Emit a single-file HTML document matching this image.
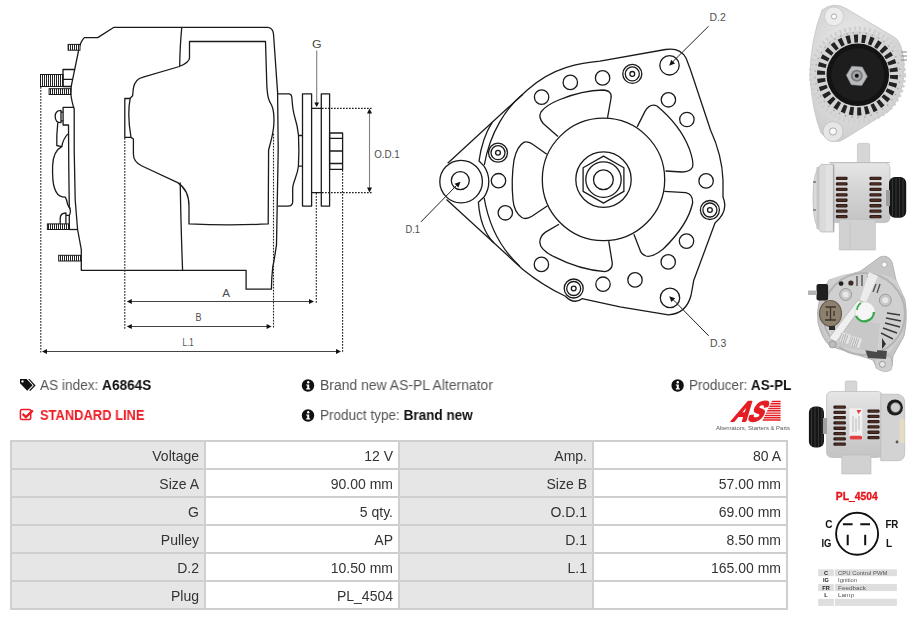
<!DOCTYPE html>
<html><head><meta charset="utf-8">
<style>
html,body{margin:0;padding:0;background:#fff;}
body{width:915px;height:620px;position:relative;overflow:hidden;font-family:"Liberation Sans",sans-serif;}
.abs{position:absolute;white-space:nowrap;will-change:transform;}
#draw{position:absolute;left:0;top:0;}
.info{font-size:14px;color:#555;line-height:16px;}
.info b{color:#111;}
#tbl{will-change:transform;position:absolute;left:10px;top:440px;width:778px;height:170px;background:#cfcfcf;}
.c{position:absolute;width:192px;height:26px;font-size:14px;color:#333;text-align:right;line-height:29px;box-sizing:border-box;padding-right:5px;overflow:hidden;}
.l{background:#e6e6e6;}
.v{background:#fff;}
</style></head><body>
<svg id="draw" width="915" height="620" viewBox="0 0 915 620">
<defs>
<pattern id="hatch" width="2" height="10" patternUnits="userSpaceOnUse"><rect width="2" height="10" fill="#fff"/><rect width="1" height="10" fill="#222"/></pattern>
</defs>
<g fill="none" stroke="#1a1a1a" stroke-width="1.3" stroke-linejoin="round">
<!-- side view outline -->
<path d="M81.3,270.3 L81.3,249.7 L77.6,229.5 L75.2,200 L74.2,150 L74.2,109 Q72,103 70.6,93 L71.3,85.8 L78.5,51 Q80,42 84.3,37.6 L97.7,37.6 L114,27.3 L267.9,27.3 Q273,28 273.5,34 L277.6,92.6 L278.2,150 L276.5,244.7 Q274,262 272.8,266.5 Q271.5,278 271.4,289.2 L246.1,289.2 L246.1,270.3 Z"/>
<path d="M181.8,27.3 Q180,45 179.7,66"/>
<path d="M180.2,182.6 Q181,230 182.6,270.3"/>
<path d="M189.5,41.5 L265.5,41.5 L266.8,85 C267.5,98 269,101 271.5,105 C274,110 274.2,118 273.8,125 C273,136 270,144 268.6,150 L268.2,223.9 Q230,226 189,223.9 L189,206 Q189,190 177.7,182.6 L142,166 Q133.4,162 133.4,154 L133.4,139 L131,137.4 Q127,115 130.2,98.2 L132.6,95.8 L133.4,88 Q135,79 142.3,77.3 L179.4,66.5 Q189.5,62 189.5,57.9 Z"/>
<path d="M130.2,98.5 L124.8,98.5 L124.8,137.4 L131,137.4"/>
<!-- rear cover -->
<path d="M74.2,107.3 L63.1,107.3 L63.1,125 L68.5,125 L68.8,170 L69.3,207.4 Q71.5,211 69.3,215.5 L69.3,224"/>
<path d="M57.8,122.7 C57,130 56.5,138 56.8,145.5 L61.8,146.6 Q53,151 52.6,166 Q52.2,182 54.5,188 Q57,196 62.3,196.8 L65.3,197.2 Q67,200 67.5,204 Q68.5,207 70.4,208.5"/>
<path d="M67.9,133.9 Q63,139 61.8,146.6"/>
<path d="M61,110.3 C56.8,110.3 55.2,113.5 55.2,116.5 C55.2,119.5 56.8,122.7 61,122.7 Z M61,112.2 L63.1,112.2 M61,120.8 L63.1,120.8"/>
<path d="M60.2,224 L60.2,218.5 C60.2,215 62.5,213 65.9,213 L65.9,224 M65.9,215.3 L69.3,215.3"/>
<path d="M69.5,229.5 L77.6,229.5"/>
<!-- box on back -->
<path d="M74.9,69.5 L63,69.5 L63,86.5 L71.4,86.5 M63,79.3 L73,79.3"/>
<!-- rear pulley part -->
<path d="M277.7,93.9 L289.5,93.9 Q291.5,94.5 291.8,97 C292.5,108 293,112 295,118 C297,124 298,130 298.5,135.5 C299,145 299,156 298.4,166.2 C297.4,176 293,182 292.7,188 L292.7,202 Q292.5,206 288,206.1 L277.7,206.1"/>
<path d="M298.5,135.5 L302.5,135.5 M298.4,166.2 L302.5,166.2"/>
<rect x="302.5" y="93.9" width="9.1" height="112.2"/>
<path d="M311.6,108.4 L321.3,108.4 M311.6,192.6 L321.3,192.6"/>
<rect x="321.3" y="93.9" width="8.3" height="112.2"/>
<rect x="329.6" y="133" width="13" height="36.4"/>
<path d="M329.6,138.4 L342.6,138.4 M329.6,151 L342.6,151 M329.6,163.5 L342.6,163.5"/>
</g>
<!-- hatched bolts -->
<g fill="url(#hatch)" stroke="#1a1a1a" stroke-width="1">
<rect x="68.1" y="44.4" width="11.9" height="5.8"/>
<rect x="40.5" y="74.5" width="22.5" height="12"/>
<rect x="49.1" y="88.7" width="21.9" height="5.8"/>
<rect x="47.4" y="223.9" width="22.1" height="5.6"/>
<rect x="58.7" y="255.3" width="22.6" height="5.7"/>
</g>
<!-- dimension lines -->
<g fill="none" stroke="#222" stroke-width="1.1" stroke-dasharray="1.7,1.3">
<path d="M40.8,87 L40.8,352.5"/>
<path d="M124.8,138 L124.8,328.8"/>
<path d="M273.5,133.7 L273.5,327.8"/>
<path d="M316.3,193 L316.3,303.5"/>
<path d="M342.6,170 L342.6,352"/>
<path d="M322,108.4 L371.6,108.4 M322,192.6 L371.6,192.6"/>
</g>
<g fill="none" stroke="#444" stroke-width="1">
<path d="M131,301.5 L310,301.5"/>
<path d="M131,326.5 L268,326.5"/>
<path d="M46,351.5 L337,351.5"/>
</g>
<g fill="none" stroke="#808080" stroke-width="1.1">
<path d="M369.5,113 L369.5,188"/>
<path d="M316.7,50.6 L316.7,103"/>
</g>
<g fill="#111" stroke="none">
<path d="M126.8,301.5 L131.8,299 L131.8,304 Z M314,301.5 L309,299 L309,304 Z"/>
<path d="M126.8,326.5 L131.8,324 L131.8,329 Z M271.6,326.5 L266.6,324 L266.6,329 Z"/>
<path d="M42,351.5 L47,349 L47,354 Z M341,351.5 L336,349 L336,354 Z"/>
<path d="M369.5,108.6 L367,113.6 L372,113.6 Z M369.5,192.4 L367,187.4 L372,187.4 Z"/>
<path d="M316.7,107 L314.3,102.6 L319.1,102.6 Z"/>
</g>
<g font-family="Liberation Sans, sans-serif" fill="#4d4d4d" font-size="10">
<text x="312" y="47.6" textLength="9.6" lengthAdjust="spacingAndGlyphs">G</text>
<text x="374.2" y="157.6" textLength="25.6" lengthAdjust="spacingAndGlyphs">O.D.1</text>
<text x="222.2" y="296.6" textLength="7.8" lengthAdjust="spacingAndGlyphs">A</text>
<text x="195.6" y="321.1" textLength="6" lengthAdjust="spacingAndGlyphs">B</text>
<text x="182.6" y="345.8" textLength="11" lengthAdjust="spacingAndGlyphs">L.1</text>
<text x="709.6" y="21" textLength="16.2" lengthAdjust="spacingAndGlyphs">D.2</text>
<text x="405.5" y="233.3" textLength="14.5" lengthAdjust="spacingAndGlyphs">D.1</text>
<text x="710.1" y="347.2" textLength="16.2" lengthAdjust="spacingAndGlyphs">D.3</text>
</g>
<!-- FRONT VIEW -->
<g fill="none" stroke="#1a1a1a" stroke-width="1.3" stroke-linejoin="round">
<path d="M447.7,163.3 L527,90.3 C538,80.3 552,72 565.8,67.6 Q583,62.5 600,61.2 L665.5,49.5 Q680,47 686,58 L690.3,69.3 L710.6,130.3 Q722,155 723,180 L723,197 Q729,211 715,223 L693.7,280.6 L691,295.5 Q686,314 668.4,314.8 L620,306.8 L582,298.7 Q574,305 565,296 Q542,285 522.9,269.4 L446.5,199.5"/>
<circle cx="461.1" cy="181.6" r="21.3"/>
<circle cx="460.3" cy="180.6" r="9"/>
<path d="M492.3,122.2 C486,132 481,147 479,161 L484.06,166.1 A27.7,27.7 0 0 1 484.06,197.1 L478.4,202.3 C479.5,218 484,233 494,243"/>
<path d="M523,94.2 C507,106.5 490,132 484.3,165 M484.2,198 C488.5,223.5 498.5,246.5 519.5,265.9"/>
<circle cx="603.5" cy="179.4" r="61.2"/>
<circle cx="603.5" cy="179.6" r="27.7"/>
<path d="M603.5,156.1 L623.9,167.8 L623.9,191.4 L603.5,203.1 L583.1,191.4 L583.1,167.8 Z"/>
<circle cx="603.5" cy="179.6" r="17.7"/>
<circle cx="603.4" cy="179.7" r="9.9"/>
<!-- windows -->
<path d="M558,136.5 L543.2,123.5 Q538,117 541,112 Q546,105 560,99.5 Q582,90.5 603,90 Q612.5,90.5 611,98.5 L607.5,117.9"/>
<path d="M637.2,126.9 L645.1,111.1 Q650,103 657,106 Q680,125 689.2,148.4 Q694,162 692.6,167 Q690,172 682,172 L665.5,171"/>
<path d="M664.3,191.4 L685.8,192.6 Q693,194 692.6,203 Q688,225 663.2,249 Q652,258 646,256 Q641,254 640,250 L633.9,234.3"/>
<path d="M608.7,241.1 L612.2,262.6 Q613,270 605,271.6 Q580,270 554.5,256.9 Q540,250 539.8,242.2 Q540,236 545.5,232.1 L559,224.2"/>
<path d="M547.6,205.8 L531.9,216.3 Q526,220 521.8,217.5 Q514,212 513,200 Q511,180 514,160 Q517,146 524.2,142.1 Q529,141 533,144.5 L546.8,154.2"/>
<!-- holes -->
<circle cx="570.3" cy="82.4" r="7.2"/><circle cx="602.6" cy="77.9" r="7.2"/><circle cx="541.6" cy="97.1" r="7.2"/>
<circle cx="668.4" cy="99.8" r="7.2"/><circle cx="686.9" cy="119.5" r="7.2"/><circle cx="706.1" cy="180.9" r="7.2"/>
<circle cx="686.5" cy="241.1" r="7.2"/><circle cx="668.2" cy="261.9" r="7.2"/><circle cx="635" cy="279.9" r="7.2"/>
<circle cx="603" cy="284.2" r="7.2"/><circle cx="541.4" cy="264.4" r="7.2"/><circle cx="505.3" cy="212.8" r="7.2"/>
<circle cx="498.5" cy="180.7" r="7.2"/>
<circle cx="669.5" cy="65.3" r="9.7"/><circle cx="670" cy="297.9" r="9.7"/>
<g>
<circle cx="632.3" cy="73.9" r="9.5"/><circle cx="632.3" cy="73.9" r="7"/><circle cx="632.3" cy="73.9" r="2.4"/>
<circle cx="709.9" cy="210" r="9.5"/><circle cx="709.9" cy="210" r="7"/><circle cx="709.9" cy="210" r="2.4"/>
<circle cx="573.7" cy="288.5" r="9.5"/><circle cx="573.7" cy="288.5" r="7"/><circle cx="573.7" cy="288.5" r="2.4"/>
<circle cx="498" cy="152.7" r="9.5"/><circle cx="498" cy="152.7" r="7"/><circle cx="498" cy="152.7" r="2.4"/>
</g>
</g>
<g fill="none" stroke="#222" stroke-width="1">
<path d="M708.6,26.2 L673,61.5"/>
<path d="M421,221.8 L456.5,185.5"/>
<path d="M708.7,335.8 L673.5,300"/>
</g>
<g fill="#111">
<path d="M669.2,65.8 L671.2,59.8 L675,63.6 Z"/>
<path d="M460.5,181.7 L454.6,183.8 L458.4,187.5 Z"/>
<path d="M669.2,296.3 L675.2,298.3 L671.4,302.1 Z"/>
</g>
</svg>

<!-- info section -->
<div class="abs info" style="left:40.3px;top:377.3px;transform:scaleX(0.973);transform-origin:0 0;">AS index: <b>A6864S</b></div>
<div class="abs info" style="left:40.3px;top:406.8px;color:#ee1c25;font-weight:bold;transform:scaleX(0.922);transform-origin:0 0;">STANDARD LINE</div>
<div class="abs info" style="left:319.5px;top:377.3px;transform:scaleX(0.995);transform-origin:0 0;">Brand new AS-PL Alternator</div>
<div class="abs info" style="left:319.5px;top:406.8px;transform:scaleX(0.967);transform-origin:0 0;">Product type: <b>Brand new</b></div>
<div class="abs info" style="left:688.5px;top:377.3px;transform:scaleX(0.96);transform-origin:0 0;">Producer: <b>AS-PL</b></div>

<!-- table -->
<div id="tbl">
<div class="c l" style="left:2px;top:2px">Voltage</div><div class="c v" style="left:196px;top:2px">12 V</div><div class="c l" style="left:390px;top:2px">Amp.</div><div class="c v" style="left:584px;top:2px">80 A</div>
<div class="c l" style="left:2px;top:30px">Size A</div><div class="c v" style="left:196px;top:30px">90.00 mm</div><div class="c l" style="left:390px;top:30px">Size B</div><div class="c v" style="left:584px;top:30px">57.00 mm</div>
<div class="c l" style="left:2px;top:58px">G</div><div class="c v" style="left:196px;top:58px">5 qty.</div><div class="c l" style="left:390px;top:58px">O.D.1</div><div class="c v" style="left:584px;top:58px">69.00 mm</div>
<div class="c l" style="left:2px;top:86px">Pulley</div><div class="c v" style="left:196px;top:86px">AP</div><div class="c l" style="left:390px;top:86px">D.1</div><div class="c v" style="left:584px;top:86px">8.50 mm</div>
<div class="c l" style="left:2px;top:114px">D.2</div><div class="c v" style="left:196px;top:114px">10.50 mm</div><div class="c l" style="left:390px;top:114px">L.1</div><div class="c v" style="left:584px;top:114px">165.00 mm</div>
<div class="c l" style="left:2px;top:142px">Plug</div><div class="c v" style="left:196px;top:142px">PL_4504</div><div class="c l" style="left:390px;top:142px"></div><div class="c v" style="left:584px;top:142px"></div>
</div>

<!-- icons -->
<svg class="abs" style="left:0;top:360px" width="800" height="80" viewBox="0 360 800 80">
<g fill="#111">
<path d="M20,379 L26.6,379 L32.6,385.3 L27.2,390.7 L20,383.3 Z M22.5,380.2 a1.2,1.2 0 1 0 0.01,0 Z" fill-rule="evenodd"/>
<path d="M28.2,379 L29.6,379 L35.6,385.6 L30.2,391 L29.2,390.2 L33.8,385.6 Z"/>
</g>
<rect x="20.4" y="409.6" width="10.3" height="10" rx="1.5" fill="none" stroke="#ee1c25" stroke-width="1.5"/>
<path d="M22.6,413.8 L25.9,417.1 L32.8,410.4" fill="none" stroke="#ee1c25" stroke-width="2.4"/>
<g>
<circle cx="308" cy="385.5" r="6.2" fill="#111"/>
<circle cx="308" cy="415.5" r="6.2" fill="#111"/>
<circle cx="677.6" cy="385.5" r="6.2" fill="#111"/>
<g fill="#fff">
<circle cx="308.2" cy="382.2" r="1.2"/><path d="M306.2,384.4 L309.2,384.4 L309.2,388.2 L310.2,388.2 L310.2,389.5 L306.2,389.5 L306.2,388.2 L307.2,388.2 L307.2,385.6 L306.2,385.6 Z"/>
<circle cx="308.2" cy="412.2" r="1.2"/><path d="M306.2,414.4 L309.2,414.4 L309.2,418.2 L310.2,418.2 L310.2,419.5 L306.2,419.5 L306.2,418.2 L307.2,418.2 L307.2,415.6 L306.2,415.6 Z"/>
<circle cx="677.8" cy="382.2" r="1.2"/><path d="M675.8,384.4 L678.8,384.4 L678.8,388.2 L679.8,388.2 L679.8,389.5 L675.8,389.5 L675.8,388.2 L676.8,388.2 L676.8,385.6 L675.8,385.6 Z"/>
</g>
</g>
<!-- AS logo -->
<path fill="#e31e24" d="M772.0,400.80 L780.6,400.80 L780.6,402.25 L771.3,402.25 Z M770.9,403.12 L780.6,403.12 L780.6,404.57 L770.2,404.57 Z M769.8,405.44 L780.6,405.44 L780.6,406.89 L769.1,406.89 Z M768.7,407.76 L780.6,407.76 L780.6,409.21 L768.0,409.21 Z M767.6,410.08 L780.6,410.08 L780.6,411.53 L766.9,411.53 Z M766.4,412.40 L780.6,412.40 L780.6,413.85 L765.8,413.85 Z M765.3,414.72 L780.6,414.72 L780.6,416.17 L764.6,416.17 Z M764.2,417.04 L780.6,417.04 L780.6,418.49 L763.5,418.49 Z M763.1,419.36 L780.6,419.36 L780.6,420.81 L762.4,420.81 Z"/>
<text x="730.3" y="420.9" font-family="Liberation Sans, sans-serif" font-weight="bold" font-size="28" fill="#e31e24" stroke="#e31e24" stroke-width="1.8" stroke-linejoin="round" textLength="30" lengthAdjust="spacingAndGlyphs" transform="translate(729.5,421.7) skewX(-30) translate(-729.5,-421.7)">AS</text>
<text x="716" y="430.2" font-size="6.2" fill="#555" textLength="74" lengthAdjust="spacingAndGlyphs" font-family="Liberation Sans, sans-serif">Alternators, Starters &amp; Parts</text>
</svg>

<!-- right column -->
<svg class="abs" style="left:790px;top:0" width="125" height="620" viewBox="790 0 125 620">
<defs>
<radialGradient id="gHous" cx="0.45" cy="0.4" r="0.7"><stop offset="0" stop-color="#f0f0f0"/><stop offset="1" stop-color="#c9c9c9"/></radialGradient>
<linearGradient id="gBody" x1="0" y1="0" x2="0" y2="1"><stop offset="0" stop-color="#e6e6e6"/><stop offset="0.5" stop-color="#d2d2d2"/><stop offset="1" stop-color="#c4c4c4"/></linearGradient>
<linearGradient id="gSlot" x1="0" y1="0" x2="0" y2="1"><stop offset="0" stop-color="#6b3a36"/><stop offset="1" stop-color="#4a2624"/></linearGradient>
</defs>
<!-- photo 1: front -->
<g>
<path d="M822,10 Q834,1 847,9 L894,37 Q902,41 904,62 L904,74 Q903,96 889,111 L846,138 Q834,147 821,133 Q812,110 810,76 Q810,42 822,10 Z" fill="url(#gHous)" stroke="#c4c4c4" stroke-width="0.8"/>
<circle cx="834" cy="16.5" r="9.5" fill="#ececec" stroke="#c8c8c8" stroke-width="0.8"/>
<circle cx="834" cy="16.5" r="2.6" fill="#fff" stroke="#999" stroke-width="0.8"/>
<circle cx="833" cy="131.5" r="10" fill="#e6e6e6" stroke="#c0c0c0" stroke-width="0.8"/>
<circle cx="833" cy="131.5" r="3.6" fill="#fafafa" stroke="#999" stroke-width="0.8"/>
<circle cx="857.5" cy="75" r="46.5" fill="none" stroke="#cfcfcf" stroke-width="4" stroke-dasharray="2.5,2.5"/>
<circle cx="857.5" cy="75" r="44" fill="#d4d4d4"/>
<circle cx="857.5" cy="75" r="36.5" fill="none" stroke="#222" stroke-width="8" stroke-dasharray="4,3.65"/>
<circle cx="857.5" cy="75" r="42.5" fill="none" stroke="#a8a8a8" stroke-width="1.4" stroke-dasharray="1.5,5"/>
<circle cx="857.8" cy="74.8" r="31.3" fill="#131313"/>
<circle cx="857.8" cy="74.8" r="26.5" fill="#1d1d1d"/>
<path d="M867.3,76.5 L862.3,67 L851.8,66.2 L846.3,75.2 L851.3,84.7 L861.8,85.5 Z" fill="#b9bcbe" stroke="#8d9091" stroke-width="0.6"/>
<circle cx="856.8" cy="75.8" r="6" fill="#7a7a7a"/>
<circle cx="856.8" cy="75.8" r="4.3" fill="#a4a4a4"/>
<circle cx="856.8" cy="75.8" r="2" fill="#111"/>
<path d="M901,52 L907,52 M901,56 L907,56 M901,60 L907,60" stroke="#888" stroke-width="1.2"/>
</g>
<!-- photo 2: side -->
<g>
<rect x="857.4" y="143.3" width="12.3" height="24" rx="2" fill="#d6d6d6" stroke="#bdbdbd" stroke-width="0.6"/>
<rect x="829" y="162.6" width="61" height="60" rx="5" fill="url(#gBody)" stroke="#b9b9b9" stroke-width="0.7"/>
<path d="M834,164.4 L821,164.4 Q813,170 813,198 Q813,226 821,232 L834,232 Z" fill="#dadada" stroke="#b5b5b5" stroke-width="0.7"/>
<rect x="816.5" y="167" width="3" height="62" fill="#c6c6c6"/>
<rect x="826" y="165" width="7" height="66" fill="#e2e2e2"/><path d="M833.5,165 V231" stroke="#a9a9a9" stroke-width="1.2"/><path d="M829,162.6 H890" stroke="#bdbdbd" stroke-width="1"/>
<path d="M839.3,219.5 L875.4,219.5 L875.4,250 L839.3,250 Z" fill="#d1d1d1" stroke="#bcbcbc" stroke-width="0.6"/>
<path d="M850,222 L850,250" stroke="#c2c2c2" stroke-width="1"/>
<g fill="#2e1d1a"><rect x="835.9" y="176.8" width="11.7" height="3.3" rx="1.3"/><rect x="835.9" y="182.2" width="11.7" height="3.3" rx="1.3"/><rect x="835.9" y="187.7" width="11.7" height="3.3" rx="1.3"/><rect x="835.9" y="193.2" width="11.7" height="3.3" rx="1.3"/><rect x="835.9" y="198.6" width="11.7" height="3.3" rx="1.3"/><rect x="835.9" y="204.1" width="11.7" height="3.3" rx="1.3"/><rect x="835.9" y="209.5" width="11.7" height="3.3" rx="1.3"/><rect x="835.9" y="215.0" width="11.7" height="3.3" rx="1.3"/><rect x="869.4" y="176.8" width="12.2" height="3.3" rx="1.3"/><rect x="869.4" y="182.2" width="12.2" height="3.3" rx="1.3"/><rect x="869.4" y="187.7" width="12.2" height="3.3" rx="1.3"/><rect x="869.4" y="193.2" width="12.2" height="3.3" rx="1.3"/><rect x="869.4" y="198.6" width="12.2" height="3.3" rx="1.3"/><rect x="869.4" y="204.1" width="12.2" height="3.3" rx="1.3"/><rect x="869.4" y="209.5" width="12.2" height="3.3" rx="1.3"/><rect x="869.4" y="215.0" width="12.2" height="3.3" rx="1.3"/></g>
<g fill="#8a4a2e" opacity="0.4"><rect x="837.5" y="177.8" width="8.5" height="1.5" rx="0.5"/><rect x="837.5" y="183.2" width="8.5" height="1.5" rx="0.5"/><rect x="837.5" y="188.7" width="8.5" height="1.5" rx="0.5"/><rect x="837.5" y="194.2" width="8.5" height="1.5" rx="0.5"/><rect x="837.5" y="199.6" width="8.5" height="1.5" rx="0.5"/><rect x="837.5" y="205.1" width="8.5" height="1.5" rx="0.5"/><rect x="837.5" y="210.5" width="8.5" height="1.5" rx="0.5"/><rect x="837.5" y="216.0" width="8.5" height="1.5" rx="0.5"/><rect x="871" y="177.8" width="9" height="1.5" rx="0.5"/><rect x="871" y="183.2" width="9" height="1.5" rx="0.5"/><rect x="871" y="188.7" width="9" height="1.5" rx="0.5"/><rect x="871" y="194.2" width="9" height="1.5" rx="0.5"/><rect x="871" y="199.6" width="9" height="1.5" rx="0.5"/><rect x="871" y="205.1" width="9" height="1.5" rx="0.5"/><rect x="871" y="210.5" width="9" height="1.5" rx="0.5"/><rect x="871" y="216.0" width="9" height="1.5" rx="0.5"/></g>
<path d="M816,182 L813,182 M816,210 L813,210" stroke="#777" stroke-width="1.4"/>
<rect x="889" y="177" width="17.2" height="40.7" rx="6" fill="#161616"/>
<g stroke="#3a3a3a" stroke-width="0.9"><path d="M892.5,178.5 V216 M896,178 V217 M899.5,178 V217 M903,179 V216"/></g>
<rect x="886" y="190" width="4" height="16" fill="#9c9c9c"/>
</g>
<!-- photo 3: rear -->
<g>
<path d="M860,271.5 L880,257 Q888,254 892,262 L896,280 L905,300 Q908,318 904,336 L893,356 L892,366 Q886,374 876,366 L873,360 L830,346 Q821,338 818,322 Q815,302 829,280 Z" fill="#c6c6c6" stroke="#a8a8a8" stroke-width="0.8"/>
<path d="M829,280 Q850,270 873,272.7 Q890,275 897,281 L904,300 Q907,318 902,336 L890,352 L874,360 L835,346 Q824,338 822,322 Q821,300 829,280 Z" fill="#d0d0d0"/>
<circle cx="864" cy="314" r="41" fill="none" stroke="#b4b4b4" stroke-width="2"/>
<circle cx="884.3" cy="264.6" r="2.6" fill="#fafafa" stroke="#999" stroke-width="0.6"/>
<path d="M873,355 L890,356 Q894,364 891,370 Q884,374 876,368 Z" fill="#cfcfcf" stroke="#aaa" stroke-width="0.6"/>
<circle cx="882.4" cy="364.3" r="3" fill="#e6e6e6" stroke="#8d8d8d" stroke-width="0.8"/>
<path d="M865,349 L887,351 L886,359 L868,358 Z" fill="#4a4a4a"/>
<rect x="816.5" y="284" width="11.6" height="16.4" rx="2" fill="#1f1f1f"/>
<rect x="808" y="290.5" width="9" height="4.5" fill="#b4b4b4"/>
<ellipse cx="830.5" cy="313.5" rx="11" ry="13" fill="#8e806e" stroke="#6a5e50" stroke-width="1.2"/>
<path d="M825.5,307 H836 M830.5,307 V320 M825,320 H836 M827,311 V316 M834,311 V316" stroke="#3d342c" stroke-width="1.3" fill="none"/>
<rect x="829" y="326" width="6" height="4" fill="#2a2a2a"/>
<circle cx="841.1" cy="283.6" r="2.4" fill="#222"/><circle cx="850.9" cy="283" r="2.6" fill="#3a2a22"/>
<g stroke="#555" stroke-width="1.4"><path d="M857,276 V286 M862,275 V286 M868,276 V285 M876,284 L873,292 M880,284 L877,293"/></g>
<path d="M869,272 L878,276 L866,302 L860,300 Z" fill="#ececec"/>
<circle cx="845.7" cy="294.5" r="6" fill="#c8c8c8" stroke="#8f8f8f" stroke-width="0.8"/><circle cx="845.7" cy="294.5" r="3" fill="#e8e8e8"/>
<circle cx="885.3" cy="300.2" r="6" fill="#c8c8c8" stroke="#8f8f8f" stroke-width="0.8"/><circle cx="885.3" cy="300.2" r="3" fill="#e8e8e8"/>
<circle cx="872" cy="334" r="5.5" fill="#c8c8c8" stroke="#8f8f8f" stroke-width="0.8"/><circle cx="872" cy="334" r="2.7" fill="#e8e8e8"/>
<path d="M836,346 L851,318 L880,324 L877,352 Z" fill="#c8c8c8"/><path d="M829,338 L858,300 L864,303 L836,342 Z" fill="#efefef" stroke="#a8a8a8" stroke-width="0.6"/>
<circle cx="865" cy="312" r="10" fill="#f6f6f6" stroke="#d6d6d6" stroke-width="0.6"/>
<path d="M856,316 A9.5,9.5 0 0 0 874,312" stroke="#3aa84a" stroke-width="2.4" fill="none"/>
<path d="M857,310 A9.5,9.5 0 0 1 861,303" stroke="#3aa84a" stroke-width="1.6" fill="none"/>
<g fill="#e6e6e6"><path d="M841,332 L851,335 L848,344 L838,341 Z"/><path d="M852,336 L862,339 L859,348 L849,345 Z"/></g>
<g stroke="#9a9a9a" stroke-width="0.7"><path d="M842,333 L839,341 M844,334 L841,342 M846,334 L843,343 M848,335 L845,343 M853,337 L850,345 M855,338 L852,346 M857,338 L854,347 M859,339 L856,347"/></g>
<g stroke="#3a3a3a" stroke-width="1.5"><path d="M887,313 L900,315 M886,318 L901,321 M885,323 L900,327 M883,328 L897,333 M881,333 L893,339"/></g>
<path d="M882,338 L886,344 L882,349 Z" fill="#333"/>
<circle cx="832.5" cy="344.4" r="3.5" fill="#bdbdbd" stroke="#8a8a8a" stroke-width="0.6"/>
</g>
<!-- photo 4: side -->
<g>
<rect x="845.2" y="380.9" width="11.6" height="14" rx="1.5" fill="#d6d6d6" stroke="#bdbdbd" stroke-width="0.6"/>
<rect x="826.6" y="391.5" width="56" height="66" rx="5" fill="url(#gBody)" stroke="#b9b9b9" stroke-width="0.7"/>
<path d="M880.7,394.2 L898,394.2 Q904.7,396 904.7,402 L904.7,454 Q904,460.7 898,460.7 L880.7,460.7 Z" fill="#d3d3d3" stroke="#b7b7b7" stroke-width="0.7"/>
<path d="M841.7,455 L871,455 L871,474 L841.7,474 Z" fill="#d1d1d1" stroke="#bcbcbc" stroke-width="0.6"/>
<g fill="#2e1d1a"><rect x="833.4" y="405.4" width="12.5" height="3.3" rx="1.3"/><rect x="833.4" y="410.7" width="12.5" height="3.3" rx="1.3"/><rect x="833.4" y="416.0" width="12.5" height="3.3" rx="1.3"/><rect x="833.4" y="421.3" width="12.5" height="3.3" rx="1.3"/><rect x="833.4" y="426.6" width="12.5" height="3.3" rx="1.3"/><rect x="833.4" y="431.9" width="12.5" height="3.3" rx="1.3"/><rect x="833.4" y="437.2" width="12.5" height="3.3" rx="1.3"/><rect x="833.4" y="442.5" width="12.5" height="3.3" rx="1.3"/><rect x="867.4" y="409.4" width="12.2" height="3.3" rx="1.3"/><rect x="867.4" y="414.7" width="12.2" height="3.3" rx="1.3"/><rect x="867.4" y="420.0" width="12.2" height="3.3" rx="1.3"/><rect x="867.4" y="425.3" width="12.2" height="3.3" rx="1.3"/><rect x="867.4" y="430.6" width="12.2" height="3.3" rx="1.3"/><rect x="867.4" y="435.9" width="12.2" height="3.3" rx="1.3"/></g>
<g fill="#8a4a2e" opacity="0.4"><rect x="835.5" y="406.4" width="9" height="1.5" rx="0.5"/><rect x="835.5" y="411.7" width="9" height="1.5" rx="0.5"/><rect x="835.5" y="417.0" width="9" height="1.5" rx="0.5"/><rect x="835.5" y="422.3" width="9" height="1.5" rx="0.5"/><rect x="835.5" y="427.6" width="9" height="1.5" rx="0.5"/><rect x="835.5" y="432.9" width="9" height="1.5" rx="0.5"/><rect x="835.5" y="438.2" width="9" height="1.5" rx="0.5"/><rect x="835.5" y="443.5" width="9" height="1.5" rx="0.5"/><rect x="869.5" y="410.4" width="9" height="1.5" rx="0.5"/><rect x="869.5" y="415.7" width="9" height="1.5" rx="0.5"/><rect x="869.5" y="421.0" width="9" height="1.5" rx="0.5"/><rect x="869.5" y="426.3" width="9" height="1.5" rx="0.5"/><rect x="869.5" y="431.6" width="9" height="1.5" rx="0.5"/><rect x="869.5" y="436.9" width="9" height="1.5" rx="0.5"/></g>
<rect x="849.4" y="408.3" width="12.9" height="31.1" rx="1" fill="#f0f0f0"/>
<rect x="849.6" y="435.8" width="12.5" height="3.6" rx="1.5" fill="#e04040"/>
<path d="M856.5,410 L861.5,410 L858.5,414 Z" fill="#e04040"/>
<g stroke="#999" stroke-width="0.6"><path d="M853,416 V432 M856,418 V432 M859,416 V430"/></g>
<rect x="808.9" y="406.6" width="15.1" height="40.8" rx="6" fill="#161616"/>
<g stroke="#3a3a3a" stroke-width="0.9"><path d="M811.5,408 V446 M815,407 V447 M818.5,407 V447 M822,408 V446"/></g>
<rect x="823" y="418" width="4" height="16" fill="#a0a0a0"/>
<circle cx="894.9" cy="407.5" r="8" fill="#1e1e1e"/>
<circle cx="895.5" cy="407.5" r="4.8" fill="#d0d0d0" stroke="#8c8c8c" stroke-width="0.6"/>
<rect x="899.5" y="419" width="5" height="24" rx="2" fill="#e6dcc2"/>
<circle cx="897" cy="442" r="1.4" fill="#555"/>
</g>
<!-- PL_4504 -->
<text x="835.8" y="500" font-size="11" font-weight="bold" fill="#e8141b" stroke="#e8141b" stroke-width="0.35" textLength="41.9" lengthAdjust="spacingAndGlyphs" font-family="Liberation Sans, sans-serif">PL_4504</text>
<circle cx="857.1" cy="533.8" r="21" fill="none" stroke="#111" stroke-width="1.9"/>
<g stroke="#111" stroke-width="2"><path d="M842.9,524.2 H852.6 M860.3,524.2 H870 M847.7,534.8 V545.2 M865.2,534.8 V545.2"/></g>
<g font-size="10" font-weight="bold" fill="#111" font-family="Liberation Sans, sans-serif">
<text x="825.3" y="527.8">C</text>
<text x="821.4" y="546.5" textLength="10" lengthAdjust="spacingAndGlyphs">IG</text>
<text x="885.4" y="527.8" textLength="13" lengthAdjust="spacingAndGlyphs">FR</text>
<text x="886" y="546.5">L</text>
</g>
<!-- legend -->
<g fill="#dedede">
<rect x="818.2" y="569.3" width="15.6" height="6.9"/><rect x="834.8" y="569.3" width="62.1" height="6.9"/>
<rect x="818.2" y="584" width="15.6" height="7.1"/><rect x="834.8" y="584" width="62.1" height="7.1"/>
<rect x="818.2" y="598.8" width="15.6" height="7.1"/><rect x="834.8" y="598.8" width="62.1" height="7.1"/>
</g>
<g font-size="5.6" font-family="Liberation Sans, sans-serif">
<g font-weight="bold" fill="#222" text-anchor="middle">
<text x="826" y="575">C</text><text x="826" y="582.3">IG</text><text x="826" y="589.6">FR</text><text x="826" y="597">L</text>
</g>
<g fill="#555">
<text x="838" y="575" textLength="49.5" lengthAdjust="spacingAndGlyphs">CPU Control PWM</text>
<text x="838" y="582.3" textLength="19" lengthAdjust="spacingAndGlyphs">Ignition</text>
<text x="838" y="589.6" textLength="28" lengthAdjust="spacingAndGlyphs">Feedback</text>
<text x="838" y="597" textLength="16" lengthAdjust="spacingAndGlyphs">Lamp</text>
</g>
</g>
</svg>
</body></html>
